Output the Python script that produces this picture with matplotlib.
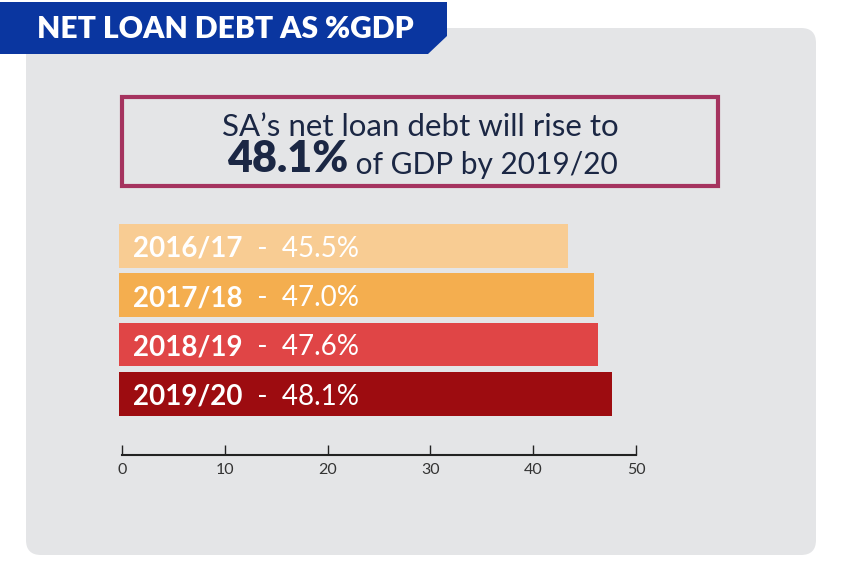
import matplotlib.pyplot as plt
from matplotlib.patches import FancyBboxPatch, Polygon, Rectangle

# Data read from the infographic
years = ['2016/17', '2017/18', '2018/19', '2019/20']
labels = ['45.5%', '47.0%', '47.6%', '48.1%']
# bar lengths as drawn (the graphic's bars are shorter than the labels say)
bar_lengths = [43.4, 45.9, 46.3, 47.7]
bar_colors = ['#f8cc93', '#f4ae4f', '#e04546', '#9d0c10']
ticks = [0, 10, 20, 30, 40, 50]

W, H = 842, 580
fig = plt.figure(figsize=(W / 100, H / 100), dpi=100)
fig.patch.set_facecolor('white')

# background layer in pixel coordinates
bg = fig.add_axes([0, 0, 1, 1], zorder=0)
bg.set_xlim(0, W)
bg.set_ylim(H, 0)
bg.axis('off')

panel = FancyBboxPatch((26 + 15, 28 + 15), 790 - 30, 527 - 30,
                       boxstyle='round,pad=15', fc='#e4e5e7', ec='none')
bg.add_patch(panel)

banner = Polygon([(0, 2), (447, 2), (447, 36), (428, 54), (0, 54)],
                 closed=True, fc='#0a36a0', ec='none')
bg.add_patch(banner)
bg.text(37, 29, 'NET LOAN DEBT AS %GDP', color='white', fontsize=21.6,
        fontweight='heavy', family='Lato', va='center', ha='left')

box = Rectangle((122, 97), 596, 89, fc='none', ec='#a5335f', lw=3)
bg.add_patch(box)
navy = '#1b2744'
bg.text(420, 127, 'SA\u2019s net loan debt will rise to', color=navy,
        fontsize=22.5, family='Lato', ha='center', va='center')
t1 = bg.text(227, 172, '48.1%', color=navy, fontsize=31, family='Lato',
             fontweight='heavy', ha='left', va='baseline')
bg.annotate(' of GDP by 2019/20', xy=(1, 0), xycoords=t1, color=navy,
            fontsize=21.5, family='Lato', ha='left', va='bottom')

# bar chart axes: x=0 at 122px, x=50 at 636px; top of first bar 224px, axis line 455px
ax = fig.add_axes([122 / W, (H - 455) / H, (636 - 122) / W, (455 - 224) / H], zorder=1)
ax.patch.set_alpha(0)
ypos = list(range(len(years)))
ax.barh(ypos, [v + 0.25 for v in bar_lengths], left=-0.25, height=0.89,
        color=bar_colors, clip_on=False)
ax.set_xlim(0, 50)
ax.set_ylim(4.24, -0.445)

for i, (yr, lab) in enumerate(zip(years, labels)):
    t = ax.annotate(yr, xy=(0, i), xytext=(8, -2), textcoords='offset points',
                    color='white', fontsize=20, fontweight='bold', family='Lato',
                    ha='left', va='center')
    ax.annotate('  -  ' + lab, xy=(1, 0), xycoords=t, color='white',
                fontsize=20, family='Lato', ha='left', va='bottom')

for s in ['top', 'right', 'left']:
    ax.spines[s].set_visible(False)
ax.spines['bottom'].set_linewidth(1.5)
ax.spines['bottom'].set_color('#222222')
ax.set_yticks([])
ax.set_xticks(ticks)
ax.tick_params(axis='x', direction='in', length=7, width=1, color='#222222',
               labelsize=11.5, labelcolor='#333333', pad=6)
for lbl in ax.get_xticklabels():
    lbl.set_family('Lato')

fig.savefig('out.png', dpi=100, facecolor='white')
